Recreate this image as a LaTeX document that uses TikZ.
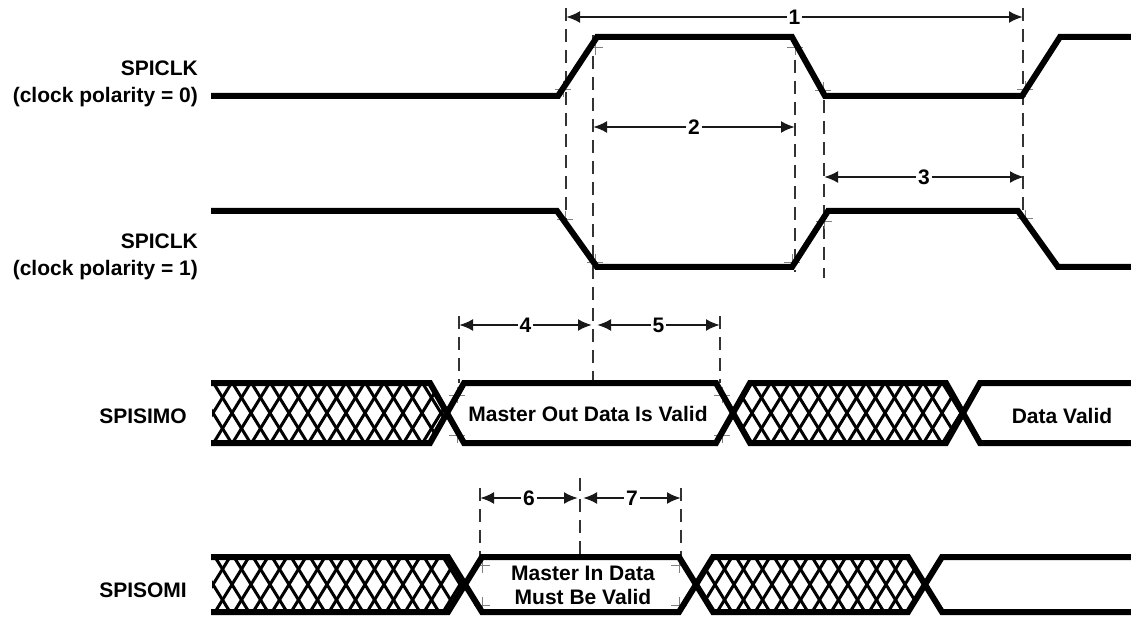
\documentclass[tikz,border=0pt]{standalone}
\usepackage{fontspec}
\setmainfont{Liberation Sans}
\usetikzlibrary{arrows.meta}

\begin{document}
\begin{tikzpicture}[x=1pt, y=-1pt,
    every node/.style={font=\fontsize{21}{27}\selectfont\bfseries, inner sep=0pt},
    signal/.style={line width=6pt},
    hatch/.style={line width=3pt},
    guide/.style={line width=1.3pt, black!80, dash pattern=on 13pt off 8pt},
    xhair/.style={gray, line width=0.7pt},
    dim/.style={line width=2.4pt, black!90, {Latex[length=14pt,width=12pt]}-{Latex[length=14pt,width=12pt]}},
    num/.style={fill=white, inner sep=2pt, text=black}]
    \useasboundingbox (0,0) rectangle (1131,617);

    % signal names
    \node[anchor=east, align=right] (clk0) at (198,84) {SPICLK\\(clock polarity = 0)};
    \node[anchor=east, align=right] (clk1) at (198,257) {SPICLK\\(clock polarity = 1)};
    \node[anchor=east] (simo) at (187,416) {SPISIMO};
    \node[anchor=east] (somi) at (187,590) {SPISOMI};

    % guide lines
    \foreach \x/\ya/\yb in {566/8/222, 593/35/383, 795/60/272, 824/100/278, 1023/8/214,
                            459/316/383, 720/316/383, 480/488/557, 580/478/557, 681/488/557} {
        \draw[guide] (\x,\ya) -- (\x,\yb);
    }

    % reference marks
    \foreach \px/\py in {563/89, 595/47, 795/47, 823/90, 1025/89,
                         565/219, 595/262, 792/262, 824/221, 1025/218,
                         457/395, 457/435, 722/395, 722/435,
                         482/565, 482/605, 679/565, 679/605} {
        \draw[xhair] (\px-8,\py) -- (\px+8,\py) (\px,\py-8) -- (\px,\py+8);
    }

    % hatched (invalid) regions
    \begin{scope}
        \clip (212,383) -- (430,383) -- (447,413) -- (430,443) -- (212,443) -- cycle;
        \foreach \x in {213,232,...,480} {
            \draw[hatch] (\x-18.5,443) -- (\x+18.5,383);
            \draw[hatch] (\x-18.5,383) -- (\x+18.5,443);
        }
    \end{scope}
    \begin{scope}
        \clip (733,413) -- (750,383) -- (946,383) -- (963,413) -- (946,443) -- (750,443) -- cycle;
        \foreach \x in {714,733,...,990} {
            \draw[hatch] (\x-18.5,443) -- (\x+18.5,383);
            \draw[hatch] (\x-18.5,383) -- (\x+18.5,443);
        }
    \end{scope}
    \begin{scope}
        \clip (212,557) -- (448,557) -- (465,584.5) -- (448,612) -- (212,612) -- cycle;
        \foreach \x in {213,232,...,490} {
            \draw[hatch] (\x-17,612) -- (\x+17,557);
            \draw[hatch] (\x-17,557) -- (\x+17,612);
        }
    \end{scope}
    \begin{scope}
        \clip (696,584.5) -- (713,557) -- (908,557) -- (925,584.5) -- (908,612) -- (713,612) -- cycle;
        \foreach \x in {677,696,...,950} {
            \draw[hatch] (\x-17,612) -- (\x+17,557);
            \draw[hatch] (\x-17,557) -- (\x+17,612);
        }
    \end{scope}

    % clocks
    \draw[signal] (211,96) -- (558,96) -- (597,37) -- (792,37) -- (825,96) -- (1022,96) -- (1060,37) -- (1131,37);
    \draw[signal] (211,211) -- (557,211) -- (597,267) -- (792,267) -- (828,211) -- (1018,211) -- (1058,267) -- (1131,267);

    % data buses
    \draw[signal] (211,383) -- (430,383) -- (464,443) -- (716,443) -- (750,383) -- (946,383) -- (980,443) -- (1131,443);
    \draw[signal] (211,443) -- (430,443) -- (464,383) -- (716,383) -- (750,443) -- (946,443) -- (980,383) -- (1131,383);
    \draw[signal] (211,557) -- (448,557) -- (482,612) -- (679,612) -- (713,557) -- (908,557) -- (942,612) -- (1131,612);
    \draw[signal] (211,612) -- (448,612) -- (482,557) -- (679,557) -- (713,612) -- (908,612) -- (942,557) -- (1131,557);

    \node (movalid) at (588,414) {Master Out Data Is Valid};
    \node (dvalid) at (1062,416) {Data Valid};
    \node[align=center, font=\fontsize{21}{24}\selectfont\bfseries] (mivalid) at (583,585) {Master In Data\\Must Be Valid};

    % timing parameters
    \foreach \n/\xa/\xb/\y in {1/566/1023/17, 2/593/795/127, 3/824/1024/177, 4/459/592/325,
                               5/597/720/325, 6/480/578/498, 7/583/681/498} {
        \coordinate (dim\n a) at (\xa,\y);
        \coordinate (dim\n b) at (\xb,\y);
        \draw[dim] (dim\n a) -- node[num] {\n} (dim\n b);
    }
\end{tikzpicture}
\end{document}
